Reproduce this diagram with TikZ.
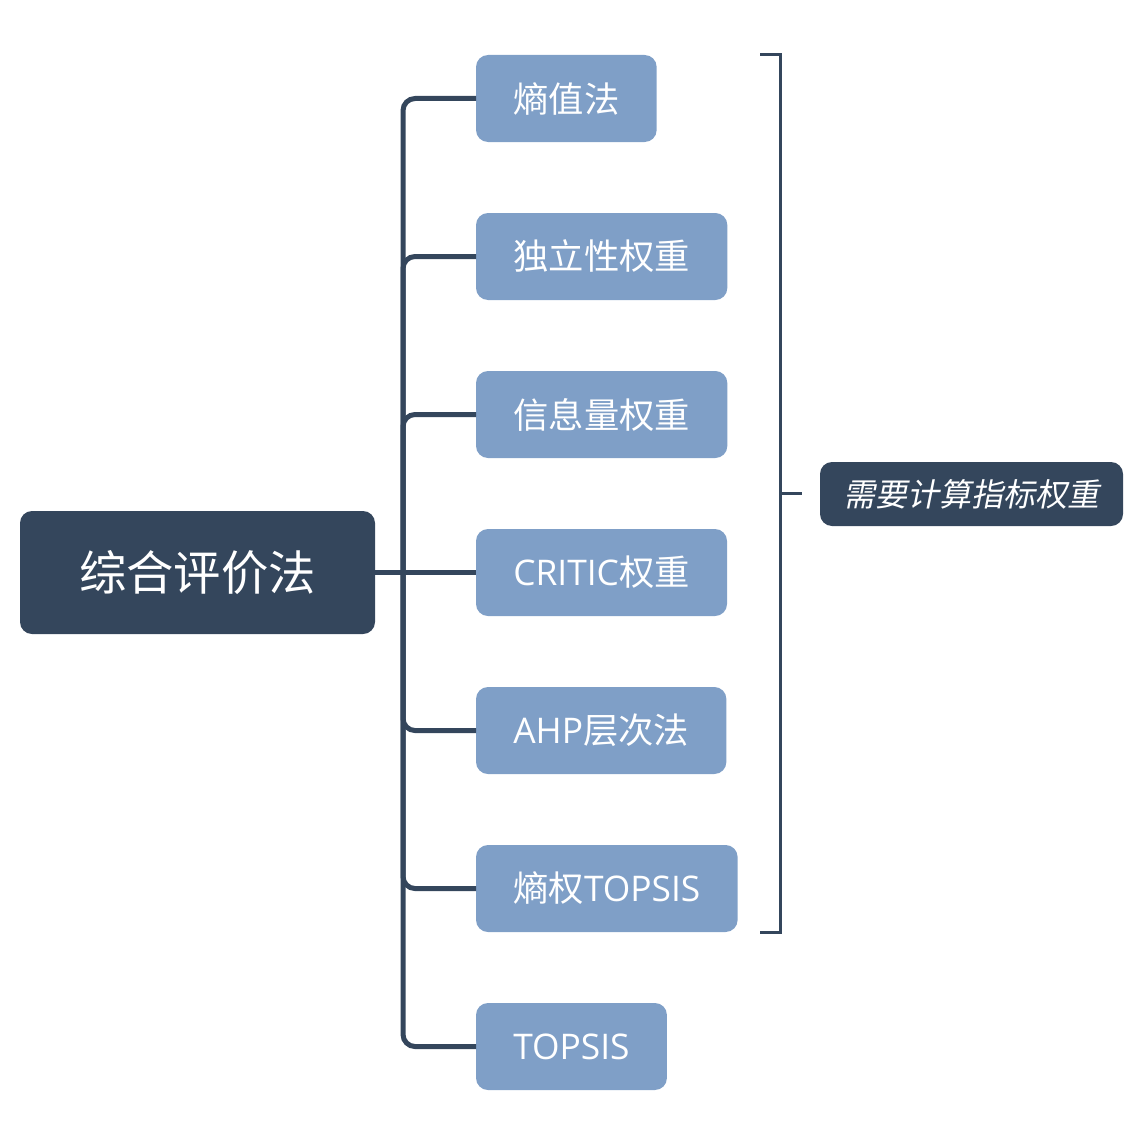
\documentclass[tikz,border=0pt]{standalone}
\usepackage{fontspec}
\setmainfont{Open Sans}
\newfontfamily\cjk{Noto Sans CJK SC}
\newfontfamily\cjkit[FakeSlant=0.2]{Noto Sans CJK SC}
\usetikzlibrary{positioning}
\definecolor{navy}{HTML}{34465C}
\definecolor{steel}{HTML}{7F9FC7}
\begin{document}
\begin{tikzpicture}[x=0.75pt,y=-0.75pt,
		root/.style={fill=navy,text=white,rounded corners=9pt,minimum width=266.25pt,minimum height=92.25pt,inner xsep=0pt,outer sep=0pt,font=\cjk\fontsize{35.5}{40}\selectfont},
		leaf/.style={fill=steel,text=white,rounded corners=9pt,minimum height=65.25pt,inner xsep=28pt,outer sep=0pt,font=\fontsize{26.5}{30}\selectfont},
		note/.style={fill=navy,text=white,rounded corners=9pt,minimum width=227.25pt,minimum height=48pt,inner xsep=0pt,outer sep=0pt,font=\cjkit\fontsize{24}{28}\selectfont},
		link/.style={draw=navy,line width=3.75pt,rounded corners=9pt},
		brace/.style={draw=navy,line width=2.25pt},
		node distance=53.25pt
	]
		\useasboundingbox (0,0) rectangle (1142,1124);
		\node (eval) [root] at (197.5,572.5) {综合评价法};
		\node (entr) [leaf,anchor=west] at (476,98.5) {\cjk 熵值法};
		\node (inde) [leaf,below=of entr.south west,anchor=north west] {\cjk 独立性权重};
		\node (info) [leaf,below=of inde.south west,anchor=north west] {\cjk 信息量权重};
		\node (crit) [leaf,below=of info.south west,anchor=north west] {CRITIC{\cjk 权重}};
		\node (ahpl) [leaf,below=of crit.south west,anchor=north west] {AHP{\cjk 层次法}};
		\node (etop) [leaf,below=of ahpl.south west,anchor=north west] {{\cjk 熵权}TOPSIS};
		\node (tops) [leaf,below=of etop.south west,anchor=north west] {TOPSIS};
		\node (need) [note] at (971.5,494) {需要计算指标权重};
	
		\coordinate (fork) at (403,572.5);
		\draw [link] (eval.east) -- (crit.west);
		\foreach \n in {entr,inde,info,ahpl,etop,tops}
			\draw [link] (fork) |- (\n.west);
	
		\coordinate (btop) at (780,55);
		\coordinate (bbot) at (780,932);
		\coordinate (bmid) at (780,493.5);
		\draw [brace] ([xshift=-15pt]btop) -- (btop) -- (bbot) -- ([xshift=-15pt]bbot);
		\draw [brace,shorten >=13.5pt] (bmid) -- (need.west |- bmid);
	\end{tikzpicture}
\end{document}
